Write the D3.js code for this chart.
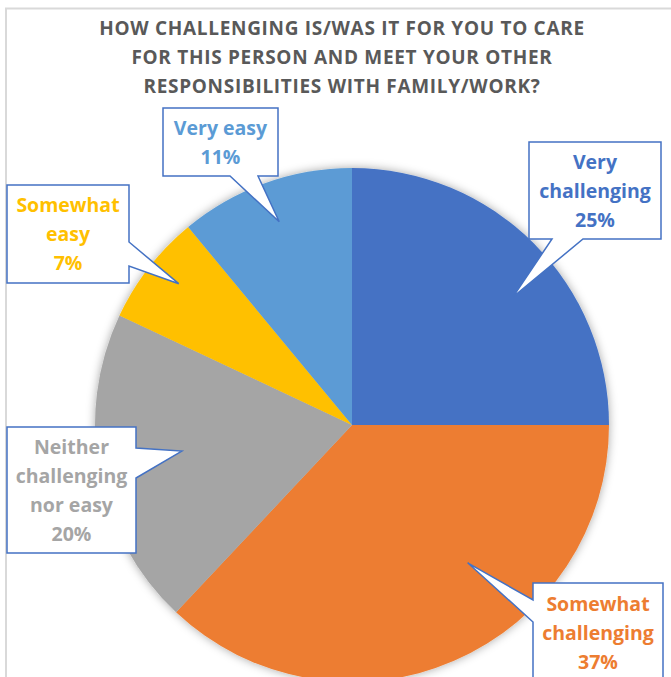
<!DOCTYPE html>
<html>
<head>
<meta charset="utf-8">
<script src="https://cdn.jsdelivr.net/npm/d3@7"></script>
<style>
  body { margin: 0; background: #fff; }
  svg { display: block; font-family: "Open Sans", Lato, sans-serif; }
</style>
</head>
<body>
<div id="chart"></div>
<script>
// data
var categories = ["Very challenging", "Somewhat challenging", "Neither challenging nor easy", "Somewhat easy", "Very easy"];
var values = [25, 37, 20, 7, 11];
var colors = ["#4472C4", "#ED7D31", "#A5A5A5", "#FFC000", "#5B9BD5"];
var labelLines = [["Very", "challenging", "25%"], ["Somewhat", "challenging", "37%"], ["Neither", "challenging", "nor easy", "20%"], ["Somewhat", "easy", "7%"], ["Very easy", "11%"]];
var titleLines = ["HOW CHALLENGING IS/WAS IT FOR YOU TO CARE", "FOR THIS PERSON AND MEET YOUR OTHER", "RESPONSIBILITIES WITH FAMILY/WORK?"];

var width = 671, height = 677;
var cx = 352, cy = 425, radius = 257;

// callout layout: box (x,y,w,h), tail side + base range, tip (angle offset deg, radius fraction)
var callouts = [
  {x: 529, y: 142, w: 132, h: 97, side: "bottom", b0: 552, b1: 583, da: 6.5, rf: 0.80},
  {x: 533, y: 583, w: 130, h: 100, side: "left", b0: 600, b1: 622, da: -16.6, rf: 0.70},
  {x: 7, y: 427, w: 129, h: 126, side: "right", b0: 448, b1: 478, da: 2.1, rf: 0.67},
  {x: 7, y: 185, w: 122, h: 98, side: "right", b0: 242, b1: 266, da: 1.4, rf: 0.87},
  {x: 163, y: 108, w: 115, h: 68, side: "bottom", b0: 230, b1: 258, da: 0.1, rf: 0.84}
];

var svg = d3.select("#chart").append("svg")
  .attr("width", width)
  .attr("height", height);

var defs = svg.append("defs");
var f = defs.append("filter").attr("id", "shadow")
  .attr("x", "-20%").attr("y", "-20%").attr("width", "140%").attr("height", "140%");
f.append("feDropShadow")
  .attr("dx", 0).attr("dy", 0)
  .attr("stdDeviation", 5)
  .attr("flood-color", "#000")
  .attr("flood-opacity", 0.35);

// outer frame
svg.append("path")
  .attr("d", "M6,677 V8.5 H671")
  .attr("fill", "none")
  .attr("stroke", "#d9d9d9")
  .attr("stroke-width", 2);

// title
svg.append("text")
  .attr("x", 342)
  .attr("y", 35)
  .attr("text-anchor", "middle")
  .style("font-size", "19px")
  .style("font-weight", "bold")
  .style("letter-spacing", "0.7px")
  .style("fill", "#595959")
  .selectAll("tspan")
  .data(titleLines)
  .enter().append("tspan")
    .attr("x", 342)
    .attr("dy", function(d, i) { return i === 0 ? 0 : 29; })
    .text(function(d) { return d; });

var pie = d3.pie().sort(null).value(function(d) { return d; });
var arcs = pie(values);
var arc = d3.arc().innerRadius(0).outerRadius(radius);

var g = svg.append("g")
  .attr("transform", "translate(" + cx + "," + cy + ")");

g.append("g")
  .attr("filter", "url(#shadow)")
  .selectAll("path")
  .data(arcs)
  .enter().append("path")
    .attr("d", arc)
    .attr("fill", function(d, i) { return colors[i]; });

// callouts
arcs.forEach(function(d, i) {
  var c = callouts[i];
  var ang = (d.startAngle + d.endAngle) / 2 + c.da * Math.PI / 180;
  var tx = cx + Math.sin(ang) * radius * c.rf;
  var ty = cy - Math.cos(ang) * radius * c.rf;
  var x0 = c.x, y0 = c.y, x1 = c.x + c.w, y1 = c.y + c.h;
  var p;
  if (c.side === "bottom") {
    p = [[x0, y0], [x1, y0], [x1, y1], [c.b1, y1], [tx, ty], [c.b0, y1], [x0, y1]];
  } else if (c.side === "right") {
    p = [[x0, y0], [x1, y0], [x1, c.b0], [tx, ty], [x1, c.b1], [x1, y1], [x0, y1]];
  } else {
    p = [[x0, y0], [x1, y0], [x1, y1], [x0, y1], [x0, c.b1], [tx, ty], [x0, c.b0]];
  }
  svg.append("path")
    .attr("d", d3.line()(p) + "Z")
    .attr("fill", "#fff")
    .attr("stroke", "#4472C4")
    .attr("stroke-width", 1.5);

  var lines = labelLines[i];
  var lh = 29;
  var midX = (x0 + x1) / 2;
  var startY = (y0 + y1) / 2 - (lines.length - 1) * lh / 2 + 7;
  var t = svg.append("text")
    .attr("text-anchor", "middle")
    .style("font-size", "19.5px")
    .style("font-weight", "bold")
    .style("fill", colors[i]);
  lines.forEach(function(l, k) {
    t.append("tspan")
      .attr("x", midX)
      .attr("y", startY + k * lh)
      .text(l);
  });
});
</script>
</body>
</html>
